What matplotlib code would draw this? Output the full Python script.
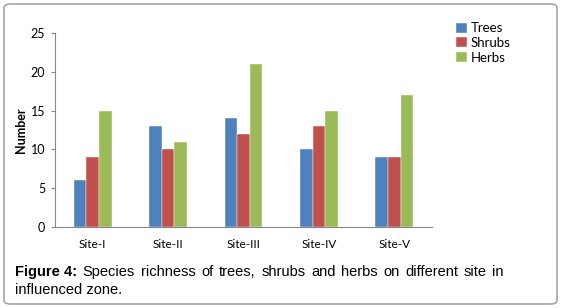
import matplotlib
matplotlib.use("Agg")
import matplotlib.pyplot as plt
from matplotlib.patches import FancyBboxPatch
import numpy as np

sites  = ["Site-I", "Site-II", "Site-III", "Site-IV", "Site-V"]
trees  = [6, 13, 14, 10, 9]
shrubs = [9, 10, 12, 13, 9]
herbs  = [15, 11, 21, 15, 17]
series = ["Trees", "Shrubs", "Herbs"]
colors = ["#4F81BD", "#C0504D", "#9BBB59"]
yticks = [0, 5, 10, 15, 20, 25]

line1 = "Species richness of trees, shrubs and herbs on different site in"
line2 = "influenced zone."

W, H = 561, 308
fig = plt.figure(figsize=(W / 100, H / 100), dpi=100)

# rounded frame round the whole figure
frame = FancyBboxPatch((4 / W, 4 / H), (W - 8) / W, (H - 8) / H,
                       boxstyle="round,pad=0,rounding_size=0.012",
                       transform=fig.transFigure, facecolor="none",
                       edgecolor="#A6A6A6", linewidth=1.2, zorder=-1)
fig.patches.append(frame)

ax = fig.add_axes([55 / W, 1 - 227 / H, (432 - 55) / W, (227 - 33) / H])
ax.set_facecolor("none")

x     = np.arange(len(sites))
width = 0.167
for i, (name, vals) in enumerate(zip(series, [trees, shrubs, herbs])):
    ax.bar(x + (i - 1) * width, vals, width, color=colors[i], label=name,
           edgecolor="white", linewidth=0.3)

ax.set_xlim(-0.5, len(sites) - 0.5)
ax.set_ylim(0, 25)
ax.set_yticks(yticks)
ax.set_xticks(x)
ax.set_xticklabels(sites, family="Lato", fontsize=8.5)
for lab in ax.get_yticklabels():
    lab.set_family("Lato")
    lab.set_fontsize(9)
ax.tick_params(axis="x", length=0, pad=9)
ax.tick_params(axis="y", length=3, width=0.8, color="#868686", pad=4)
for s in ["top", "right"]:
    ax.spines[s].set_visible(False)
ax.spines["left"].set_color("#868686")
ax.spines["bottom"].set_color("#868686")
ax.set_ylabel("Number", family="Lato", fontweight="bold", fontsize=9, labelpad=3)

ax.legend(loc="upper left", bbox_to_anchor=(451 / W, 1 - 17 / H),
          bbox_transform=fig.transFigure, frameon=False,
          prop={"family": "Lato", "size": 9.5}, handlelength=0.8,
          handleheight=0.8, handletextpad=0.3, labelspacing=0.2,
          borderaxespad=0)

# caption, first line justified between left and right edges
fs = 10.5
left, right = 15, 504
words = [("Figure 4:", "bold")] + [(w, "normal") for w in line1.split()]
texts = [fig.text(0, 1 - 276 / H, w, family="Liberation Sans", fontsize=fs,
                  fontweight=wt, va="baseline") for w, wt in words]
fig.canvas.draw()
r = fig.canvas.get_renderer()
widths = [t.get_window_extent(r).width for t in texts]
gap = (right - left - sum(widths)) / (len(texts) - 1)
pos = left
for t, w in zip(texts, widths):
    t.set_x(pos / W)
    pos += w + gap
fig.text(left / W, 1 - 294 / H, line2, family="Liberation Sans", fontsize=fs,
         va="baseline")

fig.savefig("out.png", dpi=100)
